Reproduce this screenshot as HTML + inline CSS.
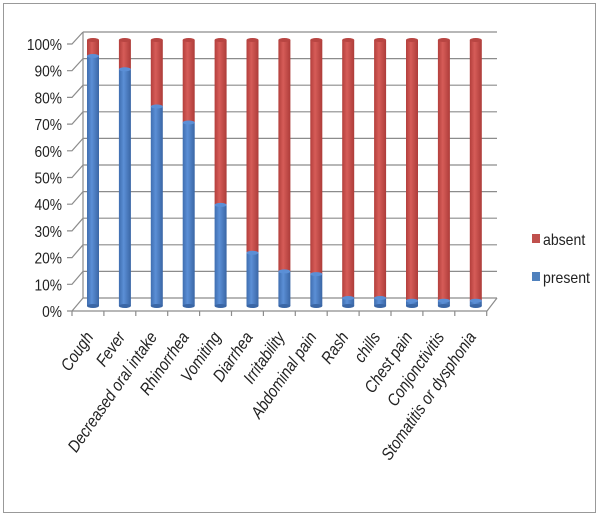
<!DOCTYPE html>
<html><head><style>body{margin:0;background:#fff}svg{display:block}text{font-family:"Liberation Sans",sans-serif;fill:#222}</style></head><body>
<svg width="601" height="516" viewBox="0 0 601 516">
<defs>
<linearGradient id="b" x1="0" x2="1"><stop offset="0" stop-color="#3f6eb0"/><stop offset="0.4" stop-color="#5b8fd6"/><stop offset="1" stop-color="#3a66a5"/></linearGradient>
<linearGradient id="r" x1="0" x2="1"><stop offset="0" stop-color="#b33f3c"/><stop offset="0.4" stop-color="#d65c58"/><stop offset="1" stop-color="#ad3c39"/></linearGradient>
</defs>
<rect x="3.5" y="3.5" width="592" height="509" fill="#fff" stroke="#999"/>
<g stroke="#8c8c8c" stroke-width="1.2" fill="none">
<path d="M83 32 V298 M497 298 L487 311 H72"/>
<path d="M83 298H497M83 271.4H497M83 244.8H497M83 218.2H497M83 191.6H497M83 165H497M83 138.4H497M83 111.8H497M83 85.2H497M83 58.6H497M83 32H497"/>
<path d="M67 311H72L83 298M67 284.3H72L83 271.4M67 257.6H72L83 244.8M67 230.9H72L83 218.2M67 204.2H72L83 191.6M67 177.5H72L83 165M67 150.8H72L83 138.4M67 124.1H72L83 111.8M67 97.4H72L83 85.2M67 70.7H72L83 58.6M67 44H72L83 32"/>
<path d="M72 311V316M103.9 311V316M135.8 311V316M167.7 311V316M199.6 311V316M231.5 311V316M263.4 311V316M295.3 311V316M327.2 311V316M359.1 311V316M391 311V316M422.9 311V316M454.8 311V316M486.7 311V316"/>
</g>
<g font-size="16" text-anchor="end" transform="translate(62,0) scale(0.86,1)">
<text x="0" y="317">0%</text><text x="0" y="290.3">10%</text><text x="0" y="263.6">20%</text><text x="0" y="236.9">30%</text><text x="0" y="210.2">40%</text><text x="0" y="183.5">50%</text><text x="0" y="156.8">60%</text><text x="0" y="130.1">70%</text><text x="0" y="103.4">80%</text><text x="0" y="76.7">90%</text><text x="0" y="50">100%</text>
</g>
<g>
<g transform="translate(93,0)"><rect x="-6" y="40" width="12" height="16" fill="url(#r)"/><rect x="-6" y="56" width="12" height="250" fill="url(#b)"/><ellipse cy="306" rx="6" ry="2" fill="#3a66a5"/><ellipse cy="56" rx="6" ry="2" fill="#5b8fd6"/><ellipse cy="40" rx="6" ry="2" fill="#b84542"/></g>
<g transform="translate(124.9,0)"><rect x="-6" y="40" width="12" height="29.3" fill="url(#r)"/><rect x="-6" y="69.3" width="12" height="236.7" fill="url(#b)"/><ellipse cy="306" rx="6" ry="2" fill="#3a66a5"/><ellipse cy="69.3" rx="6" ry="2" fill="#5b8fd6"/><ellipse cy="40" rx="6" ry="2" fill="#b84542"/></g>
<g transform="translate(156.8,0)"><rect x="-6" y="40" width="12" height="66.5" fill="url(#r)"/><rect x="-6" y="106.5" width="12" height="199.5" fill="url(#b)"/><ellipse cy="306" rx="6" ry="2" fill="#3a66a5"/><ellipse cy="106.5" rx="6" ry="2" fill="#5b8fd6"/><ellipse cy="40" rx="6" ry="2" fill="#b84542"/></g>
<g transform="translate(188.7,0)"><rect x="-6" y="40" width="12" height="82.5" fill="url(#r)"/><rect x="-6" y="122.5" width="12" height="183.5" fill="url(#b)"/><ellipse cy="306" rx="6" ry="2" fill="#3a66a5"/><ellipse cy="122.5" rx="6" ry="2" fill="#5b8fd6"/><ellipse cy="40" rx="6" ry="2" fill="#b84542"/></g>
<g transform="translate(220.6,0)"><rect x="-6" y="40" width="12" height="164.9" fill="url(#r)"/><rect x="-6" y="204.9" width="12" height="101.1" fill="url(#b)"/><ellipse cy="306" rx="6" ry="2" fill="#3a66a5"/><ellipse cy="204.9" rx="6" ry="2" fill="#5b8fd6"/><ellipse cy="40" rx="6" ry="2" fill="#b84542"/></g>
<g transform="translate(252.5,0)"><rect x="-6" y="40" width="12" height="212.8" fill="url(#r)"/><rect x="-6" y="252.8" width="12" height="53.2" fill="url(#b)"/><ellipse cy="306" rx="6" ry="2" fill="#3a66a5"/><ellipse cy="252.8" rx="6" ry="2" fill="#5b8fd6"/><ellipse cy="40" rx="6" ry="2" fill="#b84542"/></g>
<g transform="translate(284.4,0)"><rect x="-6" y="40" width="12" height="231.4" fill="url(#r)"/><rect x="-6" y="271.4" width="12" height="34.6" fill="url(#b)"/><ellipse cy="306" rx="6" ry="2" fill="#3a66a5"/><ellipse cy="271.4" rx="6" ry="2" fill="#5b8fd6"/><ellipse cy="40" rx="6" ry="2" fill="#b84542"/></g>
<g transform="translate(316.3,0)"><rect x="-6" y="40" width="12" height="234.1" fill="url(#r)"/><rect x="-6" y="274.1" width="12" height="31.9" fill="url(#b)"/><ellipse cy="306" rx="6" ry="2" fill="#3a66a5"/><ellipse cy="274.1" rx="6" ry="2" fill="#5b8fd6"/><ellipse cy="40" rx="6" ry="2" fill="#b84542"/></g>
<g transform="translate(348.2,0)"><rect x="-6" y="40" width="12" height="258" fill="url(#r)"/><rect x="-6" y="298" width="12" height="8" fill="url(#b)"/><ellipse cy="306" rx="6" ry="2" fill="#3a66a5"/><ellipse cy="298" rx="6" ry="2" fill="#5b8fd6"/><ellipse cy="40" rx="6" ry="2" fill="#b84542"/></g>
<g transform="translate(380.1,0)"><rect x="-6" y="40" width="12" height="258" fill="url(#r)"/><rect x="-6" y="298" width="12" height="8" fill="url(#b)"/><ellipse cy="306" rx="6" ry="2" fill="#3a66a5"/><ellipse cy="298" rx="6" ry="2" fill="#5b8fd6"/><ellipse cy="40" rx="6" ry="2" fill="#b84542"/></g>
<g transform="translate(412,0)"><rect x="-6" y="40" width="12" height="260.7" fill="url(#r)"/><rect x="-6" y="300.7" width="12" height="5.3" fill="url(#b)"/><ellipse cy="306" rx="6" ry="2" fill="#3a66a5"/><ellipse cy="300.7" rx="6" ry="2" fill="#5b8fd6"/><ellipse cy="40" rx="6" ry="2" fill="#b84542"/></g>
<g transform="translate(443.9,0)"><rect x="-6" y="40" width="12" height="260.7" fill="url(#r)"/><rect x="-6" y="300.7" width="12" height="5.3" fill="url(#b)"/><ellipse cy="306" rx="6" ry="2" fill="#3a66a5"/><ellipse cy="300.7" rx="6" ry="2" fill="#5b8fd6"/><ellipse cy="40" rx="6" ry="2" fill="#b84542"/></g>
<g transform="translate(475.8,0)"><rect x="-6" y="40" width="12" height="260.7" fill="url(#r)"/><rect x="-6" y="300.7" width="12" height="5.3" fill="url(#b)"/><ellipse cy="306" rx="6" ry="2" fill="#3a66a5"/><ellipse cy="300.7" rx="6" ry="2" fill="#5b8fd6"/><ellipse cy="40" rx="6" ry="2" fill="#b84542"/></g>
</g>
<g font-size="17" font-style="italic" text-anchor="end" fill="#111">
<text transform="translate(94,337) rotate(-55) scale(0.86,1)">Cough</text>
<text transform="translate(125.9,337) rotate(-55) scale(0.86,1)">Fever</text>
<text transform="translate(157.8,337) rotate(-55) scale(0.86,1)">Decreased oral intake</text>
<text transform="translate(189.7,337) rotate(-55) scale(0.86,1)">Rhinorrhea</text>
<text transform="translate(221.6,337) rotate(-55) scale(0.86,1)">Vomiting</text>
<text transform="translate(253.5,337) rotate(-55) scale(0.86,1)">Diarrhea</text>
<text transform="translate(285.4,337) rotate(-55) scale(0.86,1)">Irritability</text>
<text transform="translate(317.3,337) rotate(-55) scale(0.86,1)">Abdominal pain</text>
<text transform="translate(349.2,337) rotate(-55) scale(0.86,1)">Rash</text>
<text transform="translate(381.1,337) rotate(-55) scale(0.86,1)">chills</text>
<text transform="translate(413,337) rotate(-55) scale(0.86,1)">Chest pain</text>
<text transform="translate(444.9,337) rotate(-55) scale(0.86,1)">Conjonctivitis</text>
<text transform="translate(476.8,337) rotate(-55) scale(0.86,1)">Stomatitis or dysphonia</text>
</g>
<rect x="532" y="234" width="8" height="9" fill="#c0504d"/>
<text x="543" y="245" font-size="16" transform="translate(543,0) scale(0.88,1) translate(-543,0)">absent</text>
<rect x="532" y="272" width="8" height="9" fill="#4f81bd"/>
<text x="543" y="283" font-size="16" transform="translate(543,0) scale(0.88,1) translate(-543,0)">present</text>
</svg></body></html>
